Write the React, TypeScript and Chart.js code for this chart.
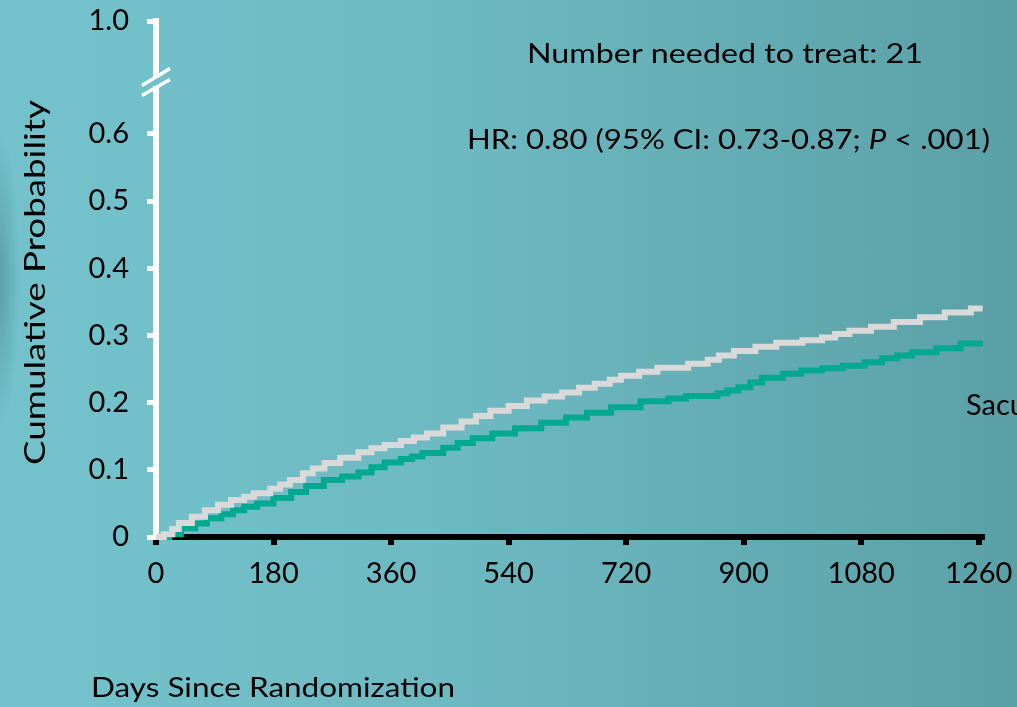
import React, { useEffect, useRef } from 'react';
import { Chart, registerables } from 'chart.js';

Chart.register(...registerables);

// ---- Data ----
const placeboDays = [0, 12, 25, 35, 55, 75, 95, 115, 135, 150, 175, 190, 205, 225, 240, 258, 282, 310, 330, 350, 375, 395, 415, 440, 468, 490, 512, 540, 568, 595, 622, 648, 672, 695, 712, 740, 768, 815, 845, 862, 885, 918, 950, 990, 1020, 1040, 1062, 1095, 1130, 1170, 1208, 1248, 1266];
const placeboRisk = [0, 0.004, 0.012, 0.021, 0.03, 0.04, 0.048, 0.055, 0.06, 0.065, 0.072, 0.078, 0.085, 0.095, 0.102, 0.11, 0.118, 0.126, 0.132, 0.137, 0.143, 0.148, 0.154, 0.163, 0.172, 0.18, 0.188, 0.195, 0.203, 0.209, 0.215, 0.222, 0.228, 0.234, 0.24, 0.246, 0.252, 0.258, 0.264, 0.27, 0.277, 0.283, 0.289, 0.293, 0.297, 0.302, 0.307, 0.313, 0.32, 0.327, 0.334, 0.34, 0.34];

const sacDays = [0, 20, 38, 60, 78, 100, 118, 135, 155, 180, 207, 230, 257, 285, 310, 330, 350, 375, 392, 408, 440, 462, 485, 515, 550, 590, 628, 660, 697, 742, 785, 812, 860, 875, 892, 910, 928, 960, 988, 1020, 1052, 1085, 1112, 1135, 1158, 1195, 1232, 1266];
const sacRisk = [0, 0.004, 0.013, 0.02, 0.028, 0.034, 0.04, 0.045, 0.05, 0.058, 0.067, 0.076, 0.085, 0.09, 0.096, 0.104, 0.111, 0.116, 0.12, 0.125, 0.133, 0.14, 0.147, 0.154, 0.162, 0.17, 0.178, 0.185, 0.193, 0.202, 0.206, 0.21, 0.214, 0.218, 0.223, 0.23, 0.237, 0.243, 0.248, 0.251, 0.255, 0.26, 0.266, 0.27, 0.275, 0.281, 0.288, 0.288];

const xTickValues = [0, 180, 360, 540, 720, 900, 1080, 1260];
const xMax = 1265;
const yTickValues = [0, 0.1, 0.2, 0.3, 0.4, 0.5, 0.6];
const yBreakTop = 0.768; // top of broken axis, labelled "1.0"
const yTopLabel = '1.0';

const yTitle = 'Cumulative Probability';
const xTitle = 'Days Since Randomization';
const nntText = 'Number needed to treat: 21';
const hrPre = 'HR: 0.80 (95% CI: 0.73-0.87; ';
const hrP = 'P';
const hrPost = ' < .001)';
const sacLabel = 'Sacubitril/valsartan';

const FONT = 'Lato, "Noto Sans", sans-serif';

type Piece = { t: string; italic?: boolean };

function drawFitted(ctx: CanvasRenderingContext2D, pieces: Piece[], size: number, x: number, y: number, width: number) {
  const fontOf = (p: Piece) => `${p.italic ? 'italic ' : ''}${size}px ${FONT}`;
  let natural = 0;
  for (const p of pieces) {
    ctx.font = fontOf(p);
    natural += ctx.measureText(p.t).width;
  }
  const sx = width / natural;
  ctx.save();
  ctx.translate(x, y);
  ctx.scale(sx, 1);
  let cx = 0;
  for (const p of pieces) {
    ctx.font = fontOf(p);
    ctx.fillText(p.t, cx, 0);
    cx += ctx.measureText(p.t).width;
  }
  ctx.restore();
}

const annotPlugin = {
  id: 'annot',
  afterDraw(chart: any) {
    const ctx = chart.ctx as CanvasRenderingContext2D;
    const ys = chart.scales.y;
    const xs = chart.scales.x;
    const ax = xs.left;
    const yTop = ys.getPixelForValue(yBreakTop);
    const y6 = ys.getPixelForValue(0.6);
    const mid = yTop + (y6 - yTop) * 0.5;
    ctx.save();
    // break gap in y axis
    ctx.clearRect(ax - 5, mid + 1, 10, 8);
    ctx.strokeStyle = '#ffffff';
    ctx.lineWidth = 3.5;
    ctx.beginPath();
    ctx.moveTo(ax - 14, mid + 8);
    ctx.lineTo(ax + 14, mid - 9);
    ctx.moveTo(ax - 14, mid + 18);
    ctx.lineTo(ax + 14, mid + 2);
    ctx.stroke();

    ctx.fillStyle = '#000000';
    ctx.textBaseline = 'alphabetic';
    ctx.textAlign = 'left';
    drawFitted(ctx, [{ t: nntText }], 27, 527, 63, 396);
    drawFitted(ctx, [{ t: hrPre }, { t: hrP, italic: true }, { t: hrPost }], 27, 467, 149, 523);
    drawFitted(ctx, [{ t: xTitle }], 27, 91, 697, 364);

    ctx.font = `29px ${FONT}`;
    ctx.fillText(sacLabel, 966, 415);

    ctx.translate(45, 465);
    ctx.rotate(-Math.PI / 2);
    drawFitted(ctx, [{ t: yTitle }], 29, 0, 0, 365);
    ctx.restore();
  },
};

export default function App() {
  const ref = useRef<HTMLCanvasElement>(null);
  useEffect(() => {
    document.body.style.margin = '0';
    const canvas = ref.current!;
    const chart = new Chart(canvas, {
      type: 'line',
      data: {
        datasets: [
          {
            label: 'Placebo',
            data: placeboDays.map((d, i) => ({ x: d, y: placeboRisk[i] })),
            borderColor: '#d9d9d9',
            borderWidth: 6,
            stepped: true,
            pointRadius: 0,
            fill: false,
            clip: false as any,
          },
          {
            label: 'Sacubitril/valsartan',
            data: sacDays.map((d, i) => ({ x: d, y: sacRisk[i] })),
            borderColor: '#00a98f',
            borderWidth: 6,
            stepped: true,
            pointRadius: 0,
            fill: false,
            clip: false as any,
          },
        ],
      },
      options: {
        responsive: false,
        animation: false,
        events: [],
        layout: { padding: { left: 0, top: 21, right: 35, bottom: 0 } },
        plugins: { legend: { display: false }, tooltip: { enabled: false }, title: { display: false } },
        scales: {
          x: {
            type: 'linear',
            min: 0,
            max: xMax,
            afterBuildTicks: (s: any) => {
              s.ticks = xTickValues.map((v) => ({ value: v }));
            },
            afterFit: (s: any) => {
              s.height = 707 - 537;
              s.paddingLeft = 0;
              s.paddingRight = 0;
            },
            border: { display: true, color: '#000000', width: 6 },
            grid: { drawOnChartArea: false, drawTicks: true, color: '#000000', lineWidth: 6, tickLength: 8 },
            ticks: {
              color: '#000000',
              font: { family: FONT, size: 29 },
              padding: 11,
              maxRotation: 0,
              autoSkip: false,
              callback: (v: any) => String(v),
            },
          },
          y: {
            type: 'linear',
            min: 0,
            max: yBreakTop,
            afterBuildTicks: (s: any) => {
              s.ticks = [...yTickValues, yBreakTop].map((v) => ({ value: v }));
            },
            afterFit: (s: any) => {
              s.width = 156;
              s.paddingTop = 0;
              s.paddingBottom = 0;
            },
            border: { display: true, color: '#ffffff', width: 6 },
            grid: { drawOnChartArea: false, drawTicks: true, color: '#ffffff', lineWidth: 5, tickLength: 9 },
            ticks: {
              color: '#000000',
              font: { family: FONT, size: 29 },
              padding: 18,
              autoSkip: false,
              callback: (v: any) => {
                const n = Number(v);
                if (n > 0.65) return yTopLabel;
                if (n === 0) return '0';
                return n.toFixed(1);
              },
            },
          },
        },
      },
      plugins: [annotPlugin],
    });
    return () => chart.destroy();
  }, []);

  return (
    <div
      style={{
        position: 'relative',
        width: 1017,
        height: 707,
        overflow: 'hidden',
        background:
          'radial-gradient(ellipse 20px 150px at 0px 280px, rgba(40,95,105,0.35), rgba(40,95,105,0)), linear-gradient(to right, #74c3cc 0%, #6db9c2 45%, #5ba0a6 100%)',
      }}
    >
      <canvas ref={ref} width={1017} height={707} style={{ display: 'block', width: 1017, height: 707 }} />
    </div>
  );
}
